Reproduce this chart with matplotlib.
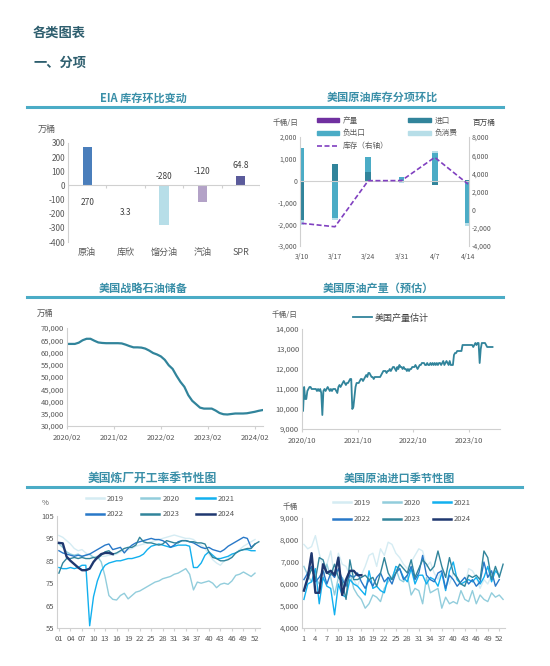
import matplotlib.pyplot as plt
import numpy as np
from matplotlib.patches import Patch
from matplotlib.lines import Line2D
from matplotlib.ticker import FuncFormatter

plt.rcParams['font.family'] = ['Noto Sans CJK SC', 'DejaVu Sans']
plt.rcParams['axes.unicode_minus'] = False

# ---- EIA 库存环比变动 ----
eia_cats = ['原油', '库欣', '馏分油', '汽油', 'SPR']
eia_vals = [270, 3.3, -280, -120, 64.8]
eia_labels = ['270', '3.3', '-280', '-120', '64.8']

# ---- 美国原油库存分项环比 ----
week_labels = ['3/10', '3/17', '3/24', '3/31', '4/7', '4/14']
prod_chg = [-50, 0, 0, 0, 0, 0]
import_chg = [-1750, 780, 400, -80, -180, 30]
neg_export_chg = [1480, -1700, 700, 170, 1250, -1950]
neg_consume_chg = [-250, -100, -30, -20, 130, -150]
stock_chg = [-1500, -1880, 3190, 3200, 5760, 2820]

# ---- 美国战略石油储备 (monthly from 2020/02) ----
spr_ticks = ['2020/02', '2021/02', '2022/02', '2023/02', '2024/02']
spr = [63500, 63500, 63500, 64000, 65000, 65600, 65600, 64800, 64100, 63900,
       63800, 63800, 63800, 63800, 63700, 63200, 62600, 62100, 62100, 62000,
       61600, 60800, 59800, 59200, 58400, 57000, 54800, 53300, 50500, 48000,
       46000, 42600, 40300, 38900, 37500, 37100, 37100, 37100, 36300, 35300,
       34800, 34700, 34900, 35100, 35100, 35100, 35200, 35500, 35800, 36200,
       36500]

# ---- 美国原油产量 (weekly from 2020/10) ----
prod_ticks = ['2020/10', '2021/10', '2022/10', '2023/10']
production = [10500, 9900, 11100, 10500, 10500, 10900, 11000, 11100, 11100, 11000,
              11000, 11000, 11000, 11000, 10900, 11000, 10900, 11000, 10800, 9700,
              10900, 11000, 10900, 11000, 11100, 11000, 10900, 11000, 10900, 11000,
              11000, 11000, 10900, 10800, 11100, 11200, 11100, 11200, 11300, 11400,
              11300, 11200, 11300, 11300, 11400, 11500, 11500, 10000, 10100, 10600,
              11100, 11300, 11300, 11300, 11400, 11500, 11500, 11400, 11500, 11600,
              11700, 11600, 11800, 11800, 11700, 11600, 11600, 11500, 11600, 11600,
              11600, 11600, 11600, 11600, 11700, 11800, 11900, 11900, 11900, 11800,
              11900, 11900, 12000, 11900, 12000, 12100, 12100, 12000, 11900, 12100,
              12000, 12200, 12100, 12100, 12000, 12100, 12000, 12000, 11900, 12000,
              11900, 12000, 12000, 12100, 12100, 12100, 12200, 12100, 12000, 12100,
              12200, 12200, 12300, 12300, 12300, 12200, 12200, 12300, 12200, 12200,
              12300, 12200, 12300, 12200, 12300, 12200, 12300, 12200, 12300, 12300,
              12200, 12300, 12400, 12200, 12300, 12400, 12300, 12200, 12400, 12200,
              12200, 12200, 12700, 12800, 12800, 12900, 12900, 12900, 12900, 12900,
              13200, 13200, 13200, 13200, 13200, 13200, 13200, 13200, 13200, 13200,
              13100, 13200, 13300, 13200, 13300, 13300, 12300, 13000, 13300, 13300,
              13300, 13300, 13200, 13100, 13100, 13100, 13100, 13100, 13100]

# ---- 美国炼厂开工率季节性 (%) ----
years = ['2019', '2020', '2021', '2022', '2023', '2024']
util_2019 = [96.3, 95.5, 94.0, 92.5, 90.5, 89.5, 90.0, 88.5, 87.5, 86.5, 86.5, 87.0, 87.0,
             87.5, 87.5, 88.0, 89.0, 89.5, 90.0, 90.5, 91.5, 92.0, 92.5, 93.0, 93.5, 94.0,
             94.5, 95.0, 95.5, 96.0, 96.5, 96.0, 95.5, 95.0, 95.0, 94.5, 93.0, 92.0, 90.5,
             88.0, 85.5, 84.0, 83.0, 85.0, 86.0, 87.5, 88.5, 90.0, 91.5, 92.5, 93.5, 94.5]
util_2020 = [92.5, 91.0, 89.0, 88.0, 87.5, 88.0, 87.0, 87.5, 88.0, 86.5, 87.0, 84.5, 78.0,
             69.5, 67.8, 67.5, 69.5, 70.5, 68.0, 69.5, 71.0, 71.5, 72.5, 73.5, 74.5, 75.5,
             76.0, 77.0, 77.5, 78.0, 79.0, 79.5, 80.5, 81.5, 79.0, 72.0, 75.5, 75.0, 75.5,
             76.0, 75.0, 73.0, 74.5, 75.0, 74.5, 76.0, 78.5, 79.0, 80.0, 79.0, 78.0, 79.5]
util_2021 = [82.0, 81.5, 81.5, 82.0, 81.5, 82.0, 83.0, 83.0, 56.0, 69.0, 76.0, 80.5, 83.0,
             84.0, 84.5, 85.0, 85.0, 85.5, 86.0, 86.0, 86.5, 87.0, 88.0, 90.0, 91.5, 92.0,
             92.5, 92.0, 91.5, 91.0, 91.5, 92.0, 92.0, 92.0, 91.5, 82.0, 82.0, 84.0, 87.5,
             89.0, 87.5, 86.0, 86.0, 86.5, 87.0, 88.0, 88.5, 89.5, 90.0, 90.0, 89.5, 89.5]
util_2022 = [89.5, 88.5, 88.0, 87.5, 87.0, 87.5, 87.0, 87.5, 88.0, 89.0, 90.0, 91.0, 92.0,
             92.5, 90.0, 90.5, 91.0, 88.5, 90.5, 92.0, 93.0, 93.5, 94.0, 94.5, 95.0, 94.5,
             94.5, 94.0, 93.0, 91.0, 92.0, 93.5, 94.0, 94.0, 93.5, 93.0, 92.0, 91.0, 90.5,
             91.0, 90.0, 89.5, 89.0, 90.0, 91.5, 92.5, 93.5, 94.5, 95.5, 95.0, 91.0, 92.5]
util_2023 = [79.5, 84.0, 86.0, 86.0, 86.5, 86.0, 86.5, 86.0, 86.0, 86.5, 86.0, 87.5, 89.0,
             89.5, 88.0, 88.5, 89.5, 90.5, 91.0, 91.0, 92.0, 95.5, 93.5, 93.0, 93.0, 92.5,
             92.0, 92.5, 94.0, 93.5, 93.0, 93.0, 94.0, 94.0, 93.5, 93.5, 93.0, 93.0, 92.5,
             89.0, 86.5, 86.0, 85.0, 85.0, 85.5, 86.5, 88.5, 89.5, 90.0, 90.5, 90.5, 92.5, 93.5]
util_2024 = [93.0, 92.8, 86.8, 85.0, 83.5, 82.0, 80.8, 80.8, 81.5, 84.5, 86.5, 88.0, 88.5,
             88.5, 88.0]

# ---- 美国原油进口季节性 (千桶/日) ----
imp_2019 = [7800, 7600, 7700, 8200, 7400, 6700, 6900, 7500, 6300, 7400, 6900, 6800, 6400,
            6200, 5900, 6400, 6800, 7300, 7400, 6800, 7600, 7300, 7900, 7800, 7400, 7200,
            6900, 6700, 7000, 7300, 7600, 7500, 6800, 7000, 6500, 6200, 6700, 6400, 6000,
            6500, 6200, 6000, 5900, 6700, 6600, 6300, 5800, 6200, 6000, 6400, 6700, 6500]
imp_2020 = [6800, 6400, 6100, 6300, 6000, 6200, 6900, 6300, 5500, 6300, 6300, 6000, 6500,
            5800, 5500, 5300, 4900, 5100, 5500, 5400, 5200, 5800, 6100, 6300, 6700, 6200,
            6100, 6400, 5500, 5800, 5700, 5100, 6300, 5600, 5700, 5800, 4900, 5400, 5100,
            5200, 5100, 5700, 5300, 5200, 5700, 5100, 5500, 5300, 5200, 5600, 5400, 5500, 5300]
imp_2021 = [5300, 6000, 6100, 6700, 5100, 6300, 5900, 5800, 4600, 6000, 5500, 5400, 6200,
            6000, 5900, 5700, 5500, 6600, 5800, 5900, 5700, 5600, 6300, 6200, 6800, 6700,
            6300, 6100, 6700, 6000, 6400, 6400, 6000, 6300, 6200, 5900, 6500, 5700, 6600,
            7000, 6200, 6000, 6100, 6200, 6100, 6300, 6000, 6300, 6800, 6100, 6600, 6400]
imp_2022 = [6200, 6500, 6800, 6100, 6300, 6600, 6000, 6500, 6300, 6700, 6200, 5900, 6400,
            6300, 6500, 6100, 5800, 6200, 5900, 6300, 6500, 6100, 6300, 6000, 6500, 6700,
            6200, 6400, 6800, 6200, 6500, 7300, 6400, 6200, 6100, 6500, 6600, 5800, 6400,
            6200, 5900, 6100, 6300, 6000, 6200, 5900, 6100, 7000, 6300, 6600, 5900, 6200]
imp_2023 = [5700, 6200, 6700, 6200, 7200, 7100, 6500, 6400, 6900, 6300, 6100, 5300, 7100,
            6200, 6200, 6300, 6400, 6200, 6300, 5900, 6500, 7200, 6500, 6200, 6500, 6900,
            6700, 6500, 7100, 6300, 6700, 7100, 6900, 6600, 6800, 7500, 6800, 6300, 7200,
            6500, 6300, 6000, 5900, 6400, 6300, 6400, 6200, 7500, 7200, 6200, 6800, 6300, 6900]
imp_2024 = [5700, 6300, 7400, 5600, 5600, 6900, 6500, 6600, 6400, 7200, 5500, 6200, 6600,
            6600, 6400, 6400]

W, H = 550, 666
TITLE_C = '#3a8fa8'
RULE_C = '#4bacc6'
AXIS_C = '#d0d0d0'
TICK_C = '#595959'
season_colors = ['#d5ecf3', '#92cddc', '#12b0ef', '#2878c8', '#31849b', '#1f3870']


def box(x0, y0, x1, y1):
    return [x0 / W, 1 - y1 / H, (x1 - x0) / W, (y1 - y0) / H]


def fx(x):
    return x / W


def fy(y):
    return 1 - y / H


def style(ax, size=5.5, spines=('left', 'bottom')):
    for s in ['left', 'right', 'top', 'bottom']:
        ax.spines[s].set_visible(s in spines)
        ax.spines[s].set_color(AXIS_C)
        ax.spines[s].set_linewidth(0.8)
    ax.tick_params(colors=TICK_C, labelsize=size, length=0, pad=2)
    ax.patch.set_alpha(0)


comma = FuncFormatter(lambda v, p: f'{int(v):,}')

fig = plt.figure(figsize=(5.5, 6.66), dpi=100)

fig.text(fx(33), fy(33), '各类图表', fontsize=9.5, fontweight='bold', color='#2e5e6e', va='center')
fig.text(fx(33), fy(63), '一、分项', fontsize=9.5, fontweight='bold', color='#2e5e6e', va='center')

# title rules
for y, x1 in [(107, 503), (297, 503), (487, 522)]:
    fig.add_artist(Line2D([fx(27), fx(x1)], [fy(y), fy(y)], color=RULE_C, lw=2.2))

titles = [(143, 98, 'EIA 库存环比变动', 8), (382, 97, '美国原油库存分项环比', 8),
          (143, 288, '美国战略石油储备', 8), (378, 288, '美国原油产量（预估）', 8),
          (152, 478, '美国炼厂开工率季节性图', 8.5), (399, 478, '美国原油进口季节性图', 8)]
for x, y, t, s in titles:
    fig.text(fx(x), fy(y), t, fontsize=s, fontweight='bold', color=TITLE_C, ha='center', va='center')

# ---- panel 1 ----
ax1 = fig.add_axes(box(68, 143, 260, 242))
style(ax1, 6, spines=('left',))
xc = np.arange(len(eia_cats))
ax1.bar(xc, eia_vals, width=0.24, color=['#4a7ebb', '#7f9fc8', '#b7dee8', '#b3a2c7', '#5b5b9b'])
ax1.axhline(0, color=AXIS_C, lw=0.8)
ax1.vlines(np.arange(-0.5, 5), -20, 0, color=AXIS_C, lw=0.8)
ax1.set_xlim(-0.5, 4.5)
ax1.set_ylim(-400, 300)
ax1.set_yticks(np.arange(-400, 301, 100))
ax1.yaxis.set_major_formatter(comma)
ax1.set_xticks(xc)
ax1.set_xticklabels(eia_cats, fontsize=6.5)
ax1.tick_params(axis='x', pad=4)
label_y = [-120, -190, 66, 101, 144]
for i, (t, ly) in enumerate(zip(eia_labels, label_y)):
    ax1.text(i, ly, t, ha='center', va='center', fontsize=6, color='#404040')
fig.text(fx(47), fy(129), '万桶', fontsize=6.5, color=TICK_C, ha='center', va='center')

# ---- panel 2 ----
ax2 = fig.add_axes(box(300, 137, 469, 246))
style(ax2, 5, spines=('left', 'right'))
xw = np.arange(len(week_labels))
series = [(prod_chg, '产量', '#7030a0'), (import_chg, '进口', '#31849b'),
          (neg_export_chg, '负出口', '#4bacc6'), (neg_consume_chg, '负消费', '#b7dee8')]
pos_b = np.zeros(len(xw))
neg_b = np.zeros(len(xw))
handles = []
for vals, name, col in series:
    v = np.array(vals, dtype=float)
    bottom = np.where(v >= 0, pos_b, neg_b)
    ax2.bar(xw, v, width=0.17, bottom=bottom, color=col)
    pos_b += np.where(v >= 0, v, 0)
    neg_b += np.where(v < 0, v, 0)
    handles.append(Patch(color=col, label=name))
ax2.axhline(0, color=AXIS_C, lw=0.8)
ax2.set_xlim(-0.05, 5.03)
ax2.set_ylim(-3000, 2000)
ax2.set_yticks(np.arange(-3000, 2001, 1000))
ax2.yaxis.set_major_formatter(comma)
ax2.set_xticks(xw)
ax2.set_xticklabels(week_labels)
ax2.tick_params(axis='x', pad=5)
ax2b = ax2.twinx()
style(ax2b, 5, spines=())
ax2b.plot(xw, stock_chg, color='#8040c0', lw=1.2, ls=(0, (3, 1.5)))
ax2b.set_ylim(-4000, 8000)
ax2b.set_yticks(np.arange(-4000, 8001, 2000))
ax2b.yaxis.set_major_formatter(comma)
handles.append(Line2D([], [], color='#8040c0', lw=1.2, ls=(0, (3, 1.5)), label='库存（右轴）'))
order = [handles[0], handles[2], handles[4], handles[1], handles[3]]
fig.legend(handles=order, loc='upper left', bbox_to_anchor=(fx(313), fy(113)), ncol=2,
           frameon=False, fontsize=5.5, handlelength=2.9, handleheight=0.45, handletextpad=0.5,
           labelspacing=0.6, columnspacing=2.6, borderpad=0, labelcolor=TICK_C)
fig.text(fx(286), fy(123), '千桶/日', fontsize=5.5, color=TICK_C, ha='center', va='center')
fig.text(fx(484), fy(123), '百万桶', fontsize=5.5, color='#404040', ha='center', va='center')

# ---- panel 3 ----
ax3 = fig.add_axes(box(67, 328, 263, 426))
style(ax3)
ax3.plot(np.arange(len(spr)), spr, color='#31849b', lw=1.6)
ax3.set_xlim(0, 50.1)
ax3.set_ylim(30000, 70000)
ax3.set_yticks(np.arange(30000, 70001, 5000))
ax3.yaxis.set_major_formatter(comma)
ax3.set_xticks(np.arange(0, 49, 12))
ax3.set_xticklabels(spr_ticks)
ax3.tick_params(axis='x', length=2.5, color=AXIS_C, pad=3)
fig.text(fx(45), fy(313), '万桶', fontsize=6, color=TICK_C, ha='center', va='center')

# ---- panel 4 ----
ax4 = fig.add_axes(box(302, 329, 500, 429))
style(ax4)
ax4.plot(np.arange(len(production)), production, color='#31849b', lw=1.3, label='美国产量估计')
ax4.set_xlim(0, 185)
ax4.set_ylim(9000, 14000)
ax4.set_yticks(np.arange(9000, 14001, 1000))
ax4.yaxis.set_major_formatter(comma)
ax4.set_xticks([0, 52, 104, 156])
ax4.set_xticklabels(prod_ticks)
ax4.tick_params(axis='x', length=2.5, color=AXIS_C, pad=3)
ax4.legend(loc='center left', bbox_to_anchor=(fx(348), fy(318)), bbox_transform=fig.transFigure,
           frameon=False, fontsize=6.5, handlelength=2.2, handletextpad=0.3, borderpad=0,
           labelcolor='#404040')
fig.text(fx(285), fy(315), '千桶/日', fontsize=5.5, color=TICK_C, ha='center', va='center')


def seasonal(ax, data, lw_last):
    for i, (name, vals) in enumerate(zip(years, data)):
        ax.plot(np.arange(1, len(vals) + 1), vals, color=season_colors[i],
                lw=lw_last if name == '2024' else 1.0, label=name, zorder=2 + i)


# legend filled row by row: 2019 2020 2021 / 2022 2023 2024
leg_h = [Line2D([], [], color=c, lw=1.8) for c in season_colors]
leg_order = [0, 3, 1, 4, 2, 5]
leg_handles = [leg_h[i] for i in leg_order]
leg_names = [years[i] for i in leg_order]

# ---- panel 5 ----
ax5 = fig.add_axes(box(57, 516, 260, 628))
style(ax5)
seasonal(ax5, [util_2019, util_2020, util_2021, util_2022, util_2023, util_2024], 1.7)
ax5.set_xlim(0.5, 53.3)
ax5.set_ylim(55, 105)
ax5.set_yticks(np.arange(55, 106, 10))
ax5.set_xticks(np.arange(1, 53, 3))
ax5.set_xticklabels([f'{w:02d}' for w in range(1, 53, 3)])
ax5.tick_params(axis='x', length=2, color=AXIS_C, pad=3)
ax5.legend(leg_handles, leg_names, loc='upper left', bbox_to_anchor=(fx(82), fy(491)),
           bbox_transform=fig.transFigure, ncol=3, frameon=False, fontsize=5.5,
           handlelength=2.4, handletextpad=0.4, columnspacing=2.2, labelspacing=1.0,
           borderpad=0, labelcolor=TICK_C)
fig.text(fx(45), fy(503), '%', fontsize=5.5, color=TICK_C, ha='center', va='center')

# ---- panel 6 ----
ax6 = fig.add_axes(box(302, 518, 505, 628))
style(ax6)
seasonal(ax6, [imp_2019, imp_2020, imp_2021, imp_2022, imp_2023, imp_2024], 1.7)
ax6.set_xlim(0.5, 53.5)
ax6.set_ylim(4000, 9000)
ax6.set_yticks(np.arange(4000, 9001, 1000))
ax6.yaxis.set_major_formatter(comma)
ax6.set_xticks(np.arange(1, 53, 3))
ax6.tick_params(axis='x', length=2, color=AXIS_C, pad=3)
ax6.legend(leg_handles, leg_names, loc='upper left', bbox_to_anchor=(fx(329), fy(495)),
           bbox_transform=fig.transFigure, ncol=3, frameon=False, fontsize=5.5,
           handlelength=2.4, handletextpad=0.4, columnspacing=1.5, labelspacing=1.1,
           borderpad=0, labelcolor=TICK_C)
fig.text(fx(290), fy(507), '千桶', fontsize=5.5, color=TICK_C, ha='center', va='center')

fig.savefig('out.png', dpi=100)
